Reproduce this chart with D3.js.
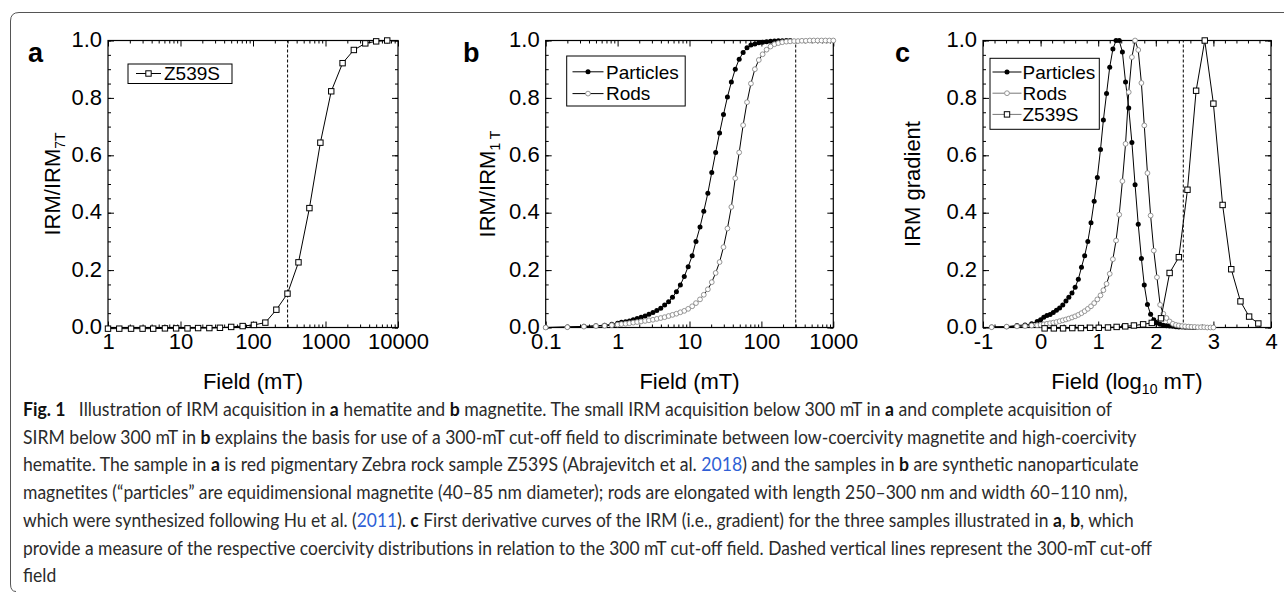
<!DOCTYPE html>
<html>
<head>
<meta charset="utf-8">
<script src="https://cdn.jsdelivr.net/npm/d3@7"></script>
<style>
  body { margin: 0; background: #fff; }
  svg { display: block; }
</style>
</head>
<body>
<svg id="fig" width="1284" height="594"></svg>
<script>
// ---- data ----
// panel a: Z539S, field in mT, IRM / IRM(7 T)
const aField  = [1, 1.43, 2.08, 3, 4.2, 6.1, 8.7, 12.5, 17.5, 25, 35, 50, 72, 103, 148, 210, 299, 424, 600, 850, 1200, 1720, 2460, 3540, 5000, 7100];
const aZ539S  = [-0.004, -0.004, -0.004, -0.004, -0.004, -0.003, -0.003, -0.003, -0.002, -0.002, -0.001, 0.002, 0.005, 0.009, 0.017, 0.062, 0.118, 0.227, 0.416, 0.644, 0.823, 0.921, 0.967, 0.990, 0.997, 1.0];

// panel b: synthetic magnetites, field in mT, IRM / IRM(1 T)
const bField = [0.1, 0.2, 0.34, 0.5, 0.66, 0.83,
  1, 1.13, 1.29, 1.46, 1.65, 1.87, 2.12, 2.41, 2.73, 3.1, 3.51, 3.98, 4.51, 5.12, 5.8, 6.58, 7.46, 8.46, 9.59,
  10.9, 12.3, 14, 15.8, 18, 20.4, 23.1, 26.2, 29.7, 33.7, 38.2, 43.3, 49.1, 55.7, 63.1, 71.5, 81.1, 92,
  104, 118, 134, 152, 172, 195, 222, 251, 285, 323, 366, 415, 471, 534, 605, 686, 778, 882, 1000];
const bParticles = [0, 0.002, 0.004, 0.006, 0.008, 0.011,
  0.015, 0.018, 0.020, 0.023, 0.027, 0.031, 0.036, 0.040, 0.046, 0.052, 0.059, 0.067, 0.078, 0.090, 0.105,
  0.125, 0.148, 0.178, 0.212, 0.250, 0.300, 0.350, 0.405, 0.468, 0.540, 0.610, 0.678, 0.742, 0.803, 0.855,
  0.900, 0.935, 0.958, 0.975, 0.984, 0.988, 0.992, 0.994, 0.996, 0.997, 0.998, 0.999, 0.999, 1.0, 1.0];
const bRods = [0, 0.001, 0.003, 0.005, 0.006, 0.008,
  0.010, 0.012, 0.013, 0.015, 0.017, 0.019, 0.021, 0.023, 0.025, 0.027, 0.030, 0.033, 0.036, 0.040, 0.044,
  0.048, 0.053, 0.058, 0.065, 0.074, 0.085, 0.098, 0.114, 0.133, 0.158, 0.190, 0.228, 0.280, 0.345, 0.420,
  0.520, 0.610, 0.705, 0.785, 0.850, 0.900, 0.932, 0.952, 0.968, 0.979, 0.987, 0.991, 0.994, 0.996, 0.997,
  0.998, 0.998, 0.999, 0.999, 1.0, 1.0, 1.0, 1.0, 1.0, 1.0, 1.0];

// panel c: IRM gradient against log10 field
const cLogField = [-0.85, -0.59, -0.41, -0.27, -0.155, -0.06,
  0.00, 0.055, 0.11, 0.165, 0.22, 0.275, 0.33, 0.385, 0.44, 0.49, 0.545, 0.60, 0.655, 0.71, 0.765, 0.82,
  0.875, 0.93, 0.985, 1.04, 1.09, 1.145, 1.20, 1.255, 1.31, 1.365, 1.42, 1.475, 1.53, 1.585, 1.64, 1.695,
  1.75, 1.80, 1.855, 1.91, 1.965, 2.02, 2.075, 2.13, 2.185, 2.24, 2.295, 2.35, 2.40, 2.455, 2.51, 2.565,
  2.62, 2.675, 2.73, 2.785, 2.84, 2.895, 2.95, 3.0];
const cParticles = [0.002, 0.003, 0.007, 0.009, 0.013, 0.021,
  0.027, 0.036, 0.042, 0.045, 0.052, 0.060, 0.068, 0.078, 0.092, 0.105, 0.120, 0.140, 0.168, 0.210, 0.250,
  0.300, 0.365, 0.440, 0.523, 0.620, 0.723, 0.815, 0.907, 0.970, 1.0, 1.0, 0.960, 0.855, 0.765, 0.645,
  0.497, 0.360, 0.240, 0.148, 0.080, 0.046, 0.027, 0.016, 0.011, 0.008, 0.006, 0.005, 0.004, 0.003,
  0.002, 0.002, 0.001, 0.001, 0.0, 0.0];
const cRods = [0.001, 0.003, 0.004, 0.005, 0.007, 0.008,
  0.009, 0.011, 0.013, 0.015, 0.017, 0.019, 0.022, 0.025, 0.028, 0.031, 0.035, 0.039, 0.044, 0.050, 0.057,
  0.065, 0.074, 0.085, 0.098, 0.112, 0.130, 0.152, 0.187, 0.238, 0.303, 0.393, 0.510, 0.640, 0.820, 0.942,
  1.0, 0.967, 0.852, 0.704, 0.538, 0.390, 0.268, 0.175, 0.079, 0.048, 0.033, 0.021, 0.013, 0.009, 0.007,
  0.005, 0.004, 0.003, 0.002, 0.002, 0.001, 0.001, 0.001, 0.0, 0.0, 0.0];
const cZLogField = [0.07, 0.23, 0.39, 0.55, 0.70, 0.86, 1.01, 1.17, 1.32, 1.47, 1.62, 1.78, 1.93, 2.09, 2.24,
  2.40, 2.55, 2.70, 2.85, 3.00, 3.16, 3.31, 3.47, 3.62, 3.78];
const cZ539S = [-0.003, -0.003, -0.003, -0.002, -0.002, -0.001, -0.001, 0.0, 0.002, 0.004, 0.007, 0.011, 0.016,
  0.032, 0.190, 0.245, 0.480, 0.825, 1.0, 0.780, 0.427, 0.203, 0.091, 0.038, 0.014];

// ticks
const yMajor = [0, 0.2, 0.4, 0.6, 0.8, 1.0];
const aTicks = [1, 10, 100, 1000, 10000];
const bTicks = [0.1, 1, 10, 100, 1000];
const cTicks = [-1, 0, 1, 2, 3, 4];
const cutoff = 300; // mT

// caption, split in the lines of the figure; "b" = bold, "l" = link colour
const caption = [
  [["Fig. 1", "b"], ["\u2002 Illustration of IRM acquisition in ", ""], ["a", "b"], [" hematite and ", ""], ["b", "b"], [" magnetite. The small IRM acquisition below 300 mT in ", ""], ["a", "b"], [" and complete acquisition of", ""]],
  [["SIRM below 300 mT in ", ""], ["b", "b"], [" explains the basis for use of a 300-mT cut-off field to discriminate between low-coercivity magnetite and high-coercivity", ""]],
  [["hematite. The sample in ", ""], ["a", "b"], [" is red pigmentary Zebra rock sample Z539S (Abrajevitch et al. ", ""], ["2018", "l"], [") and the samples in ", ""], ["b", "b"], [" are synthetic nanoparticulate", ""]],
  [["magnetites (\u201cparticles\u201d are equidimensional magnetite (40\u201385 nm diameter); rods are elongated with length 250\u2013300 nm and width 60\u2013110 nm),", ""]],
  [["which were synthesized following Hu et al. (", ""], ["2011", "l"], ["). ", ""], ["c", "b"], [" First derivative curves of the IRM (i.e., gradient) for the three samples illustrated in ", ""], ["a", "b"], [", ", ""], ["b", "b"], [", which", ""]],
  [["provide a measure of the respective coercivity distributions in relation to the 300 mT cut-off field. Dashed vertical lines represent the 300-mT cut-off", ""]],
  [["field", ""]]
];
const captionRight = [1113, 1137, 1139, 1128, 1134, 1153, null];

// ---- drawing ----
const FONT = "'Liberation Sans', Arial, Helvetica, sans-serif";
const svg = d3.select("#fig");

// outline of the figure box
svg.append("path")
  .attr("d", "M1284,12.5 H19 Q10.5,12.5 10.5,21 V584 Q10.5,591.5 16,591.5")
  .attr("fill", "none")
  .attr("stroke", "#555")
  .attr("stroke-width", 1);

const yTop = 40.5, yBot = 327.5;
const y = d3.scaleLinear().domain([0, 1]).range([yBot, yTop]);
const yMinor = d3.range(0, 1.001, 0.05);

function logMinor(lo, hi) {
  const out = [];
  for (let e = lo; e < hi; e++)
    for (let m = 2; m <= 9; m++) out.push(m * Math.pow(10, e));
  return out;
}

function frame(g, x, major, minor) {
  const [x0, x1] = x.range();
  const strip = s => s.select(".domain").remove();
  // bottom / top
  g.append("g").attr("transform", `translate(0,${yBot})`)
    .call(d3.axisBottom(x).tickValues(major).tickSize(-6).tickPadding(6).tickFormat(d => String(d)))
    .call(strip)
    .call(s => s.selectAll("text").attr("font-size", 22).attr("font-family", FONT).attr("fill", "#000"));
  g.append("g").attr("transform", `translate(0,${yBot})`)
    .call(d3.axisBottom(x).tickValues(minor).tickSize(-3).tickFormat("")).call(strip);
  g.append("g").attr("transform", `translate(0,${yTop})`)
    .call(d3.axisTop(x).tickValues(major).tickSize(-6).tickFormat("")).call(strip);
  g.append("g").attr("transform", `translate(0,${yTop})`)
    .call(d3.axisTop(x).tickValues(minor).tickSize(-3).tickFormat("")).call(strip);
  // left / right
  g.append("g").attr("transform", `translate(${x0},0)`)
    .call(d3.axisLeft(y).tickValues(yMajor).tickSize(-6).tickPadding(6).tickFormat(d3.format(".1f")))
    .call(strip)
    .call(s => s.selectAll("text").attr("font-size", 22).attr("font-family", FONT).attr("fill", "#000").attr("dy", "0.28em"));
  g.append("g").attr("transform", `translate(${x0},0)`)
    .call(d3.axisLeft(y).tickValues(yMinor).tickSize(-3).tickFormat("")).call(strip);
  g.append("g").attr("transform", `translate(${x1},0)`)
    .call(d3.axisRight(y).tickValues(yMajor).tickSize(-6).tickFormat("")).call(strip);
  g.append("g").attr("transform", `translate(${x1},0)`)
    .call(d3.axisRight(y).tickValues(yMinor).tickSize(-3).tickFormat("")).call(strip);
  g.selectAll(".tick line").attr("stroke", "#000").attr("stroke-width", 1);
  g.append("rect")
    .attr("x", x0).attr("y", yTop).attr("width", x1 - x0).attr("height", yBot - yTop)
    .attr("fill", "none").attr("stroke", "#000").attr("stroke-width", 1.2);
}

function cutLine(g, xv) {
  g.append("line")
    .attr("x1", xv).attr("x2", xv).attr("y1", yBot).attr("y2", yTop)
    .attr("stroke", "#000").attr("stroke-width", 1).attr("stroke-dasharray", "3,2");
}

function series(g, x, xs, ys, kind) {
  const pts = d3.zip(xs, ys);
  g.append("path")
    .datum(pts)
    .attr("d", d3.line().x(d => x(d[0])).y(d => y(d[1])))
    .attr("fill", "none").attr("stroke", "#000").attr("stroke-width", 1);
  marks(g, pts.map(d => [x(d[0]), y(d[1])]), kind);
}

function marks(g, xy, kind) {
  if (kind === "square") {
    g.selectAll(null).data(xy).join("rect")
      .attr("x", d => d[0] - 2.7).attr("y", d => d[1] - 2.7)
      .attr("width", 5.4).attr("height", 5.4)
      .attr("fill", "#fff").attr("stroke", "#000").attr("stroke-width", 1);
  } else if (kind === "dot") {
    g.selectAll(null).data(xy).join("circle")
      .attr("cx", d => d[0]).attr("cy", d => d[1]).attr("r", 2.5).attr("fill", "#000");
  } else {
    g.selectAll(null).data(xy).join("circle")
      .attr("cx", d => d[0]).attr("cy", d => d[1]).attr("r", 2.4)
      .attr("fill", "#fff").attr("stroke", "#8a8a8a").attr("stroke-width", 0.9);
  }
}

function legend(g, box, rows) {
  g.append("rect").attr("x", box.x).attr("y", box.y).attr("width", box.w).attr("height", box.h)
    .attr("fill", "#fff").attr("stroke", "#000").attr("stroke-width", 1);
  rows.forEach(r => {
    g.append("line").attr("x1", box.lx0).attr("x2", box.lx1).attr("y1", r.y).attr("y2", r.y)
      .attr("stroke", r.line || "#000").attr("stroke-width", 1);
    marks(g, [[(box.lx0 + box.lx1) / 2, r.y]], r.kind);
    g.append("text").attr("x", box.tx).attr("y", r.y + 6.8)
      .attr("font-family", FONT).attr("font-size", 19).text(r.label);
  });
}

function labels(g, x, letter, letterX, xTitle, yTitle, yTitleX) {
  const [x0, x1] = x.range();
  g.append("text").attr("x", letterX).attr("y", 62)
    .attr("font-family", FONT).attr("font-size", 27).attr("font-weight", "bold").text(letter);
  const xt = g.append("text").attr("x", (x0 + x1) / 2).attr("y", 389)
    .attr("text-anchor", "middle").attr("font-family", FONT).attr("font-size", 22);
  xTitle.forEach(p => xt.append("tspan").text(p));
  const yt = g.append("text")
    .attr("transform", `translate(${yTitleX},${(yTop + yBot) / 2}) rotate(-90)`)
    .attr("text-anchor", "middle").attr("font-family", FONT).attr("font-size", 22);
  yTitle.forEach(p => yt.append("tspan").text(p));
  return { xt, yt };
}

// ---------- panel a ----------
{
  const g = svg.append("g");
  const x = d3.scaleLog().domain([1, 10000]).range([108, 398]);
  frame(g, x, aTicks, logMinor(0, 4));
  cutLine(g, x(cutoff));
  series(g, x, aField, aZ539S, "square");
  legend(g, { x: 128, y: 64, w: 104, h: 19.5, lx0: 136, lx1: 161, tx: 164 },
    [{ y: 73.5, kind: "square", label: "Z539S" }]);
  const t = labels(g, x, "a", 28, ["Field (mT)"], ["IRM/IRM"], 60);
  t.yt.append("tspan").attr("font-size", 14).attr("dy", 5).text("7T");
}

// ---------- panel b ----------
{
  const g = svg.append("g");
  const x = d3.scaleLog().domain([0.1, 1000]).range([545.7, 833.3]);
  frame(g, x, bTicks, logMinor(-1, 3));
  cutLine(g, x(cutoff));
  series(g, x, bField, bParticles, "dot");
  series(g, x, bField, bRods, "open");
  legend(g, { x: 566.7, y: 56, w: 118.5, h: 50, lx0: 572.5, lx1: 603.5, tx: 606 },
    [{ y: 71.8, kind: "dot", label: "Particles" }, { y: 93.6, kind: "open", label: "Rods" }]);
  const t = labels(g, x, "b", 463, ["Field (mT)"], ["IRM/IRM"], 495);
  t.yt.append("tspan").attr("font-size", 14).attr("dy", 5).text("1 T");
}

// ---------- panel c ----------
{
  const g = svg.append("g");
  const x = d3.scaleLinear().domain([-1, 4]).range([983, 1271]);
  frame(g, x, cTicks, d3.range(-1, 4.001, 0.2));
  cutLine(g, x(Math.log10(cutoff)));
  series(g, x, cLogField, cParticles, "dot");
  series(g, x, cLogField, cRods, "open");
  series(g, x, cZLogField, cZ539S, "square");
  legend(g, { x: 990, y: 58.3, w: 109.3, h: 71, lx0: 992.5, lx1: 1021.5, tx: 1022.5 },
    [{ y: 72, kind: "dot", label: "Particles" },
     { y: 93.2, kind: "open", label: "Rods", line: "#777" },
     { y: 114.4, kind: "square", label: "Z539S", line: "#777" }]);
  const t = labels(g, x, "c", 895, [], ["IRM gradient"], 920);
  t.xt.append("tspan").text("Field (log");
  t.xt.append("tspan").attr("font-size", 14).attr("dy", 5).text("10");
  t.xt.append("tspan").attr("dy", -5).text(" mT)");
}

// ---------- caption ----------
const capFont = "Lato, 'Open Sans', sans-serif";
const capX = 23, capY0 = 416, capStep = 27.7;
const scales = [];
const capLines = caption.map((segs, i) => {
  const g = svg.append("g").attr("transform", `translate(${capX},${capY0 + i * capStep})`);
  const t = g.append("text").attr("font-family", capFont).attr("font-size", 19)
    .attr("fill", "#2b2b2b").style("white-space", "pre");
  segs.forEach(([s, k]) => {
    const ts = t.append("tspan").text(s);
    if (k === "b") ts.attr("font-weight", "bold").attr("fill", "#111");
    if (k === "l") ts.attr("fill", "#2f5fd6");
  });
  return { g, t, i };
});
capLines.forEach(({ g, t, i }) => {
  if (captionRight[i] == null) return;
  const sx = (captionRight[i] - capX) / t.node().getComputedTextLength();
  scales.push(sx);
  g.attr("transform", `translate(${capX},${capY0 + i * capStep}) scale(${sx},1)`);
});
const meanScale = d3.mean(scales);
capLines.forEach(({ g, i }) => {
  if (captionRight[i] == null)
    g.attr("transform", `translate(${capX},${capY0 + i * capStep}) scale(${meanScale},1)`);
});
</script>
</body>
</html>
